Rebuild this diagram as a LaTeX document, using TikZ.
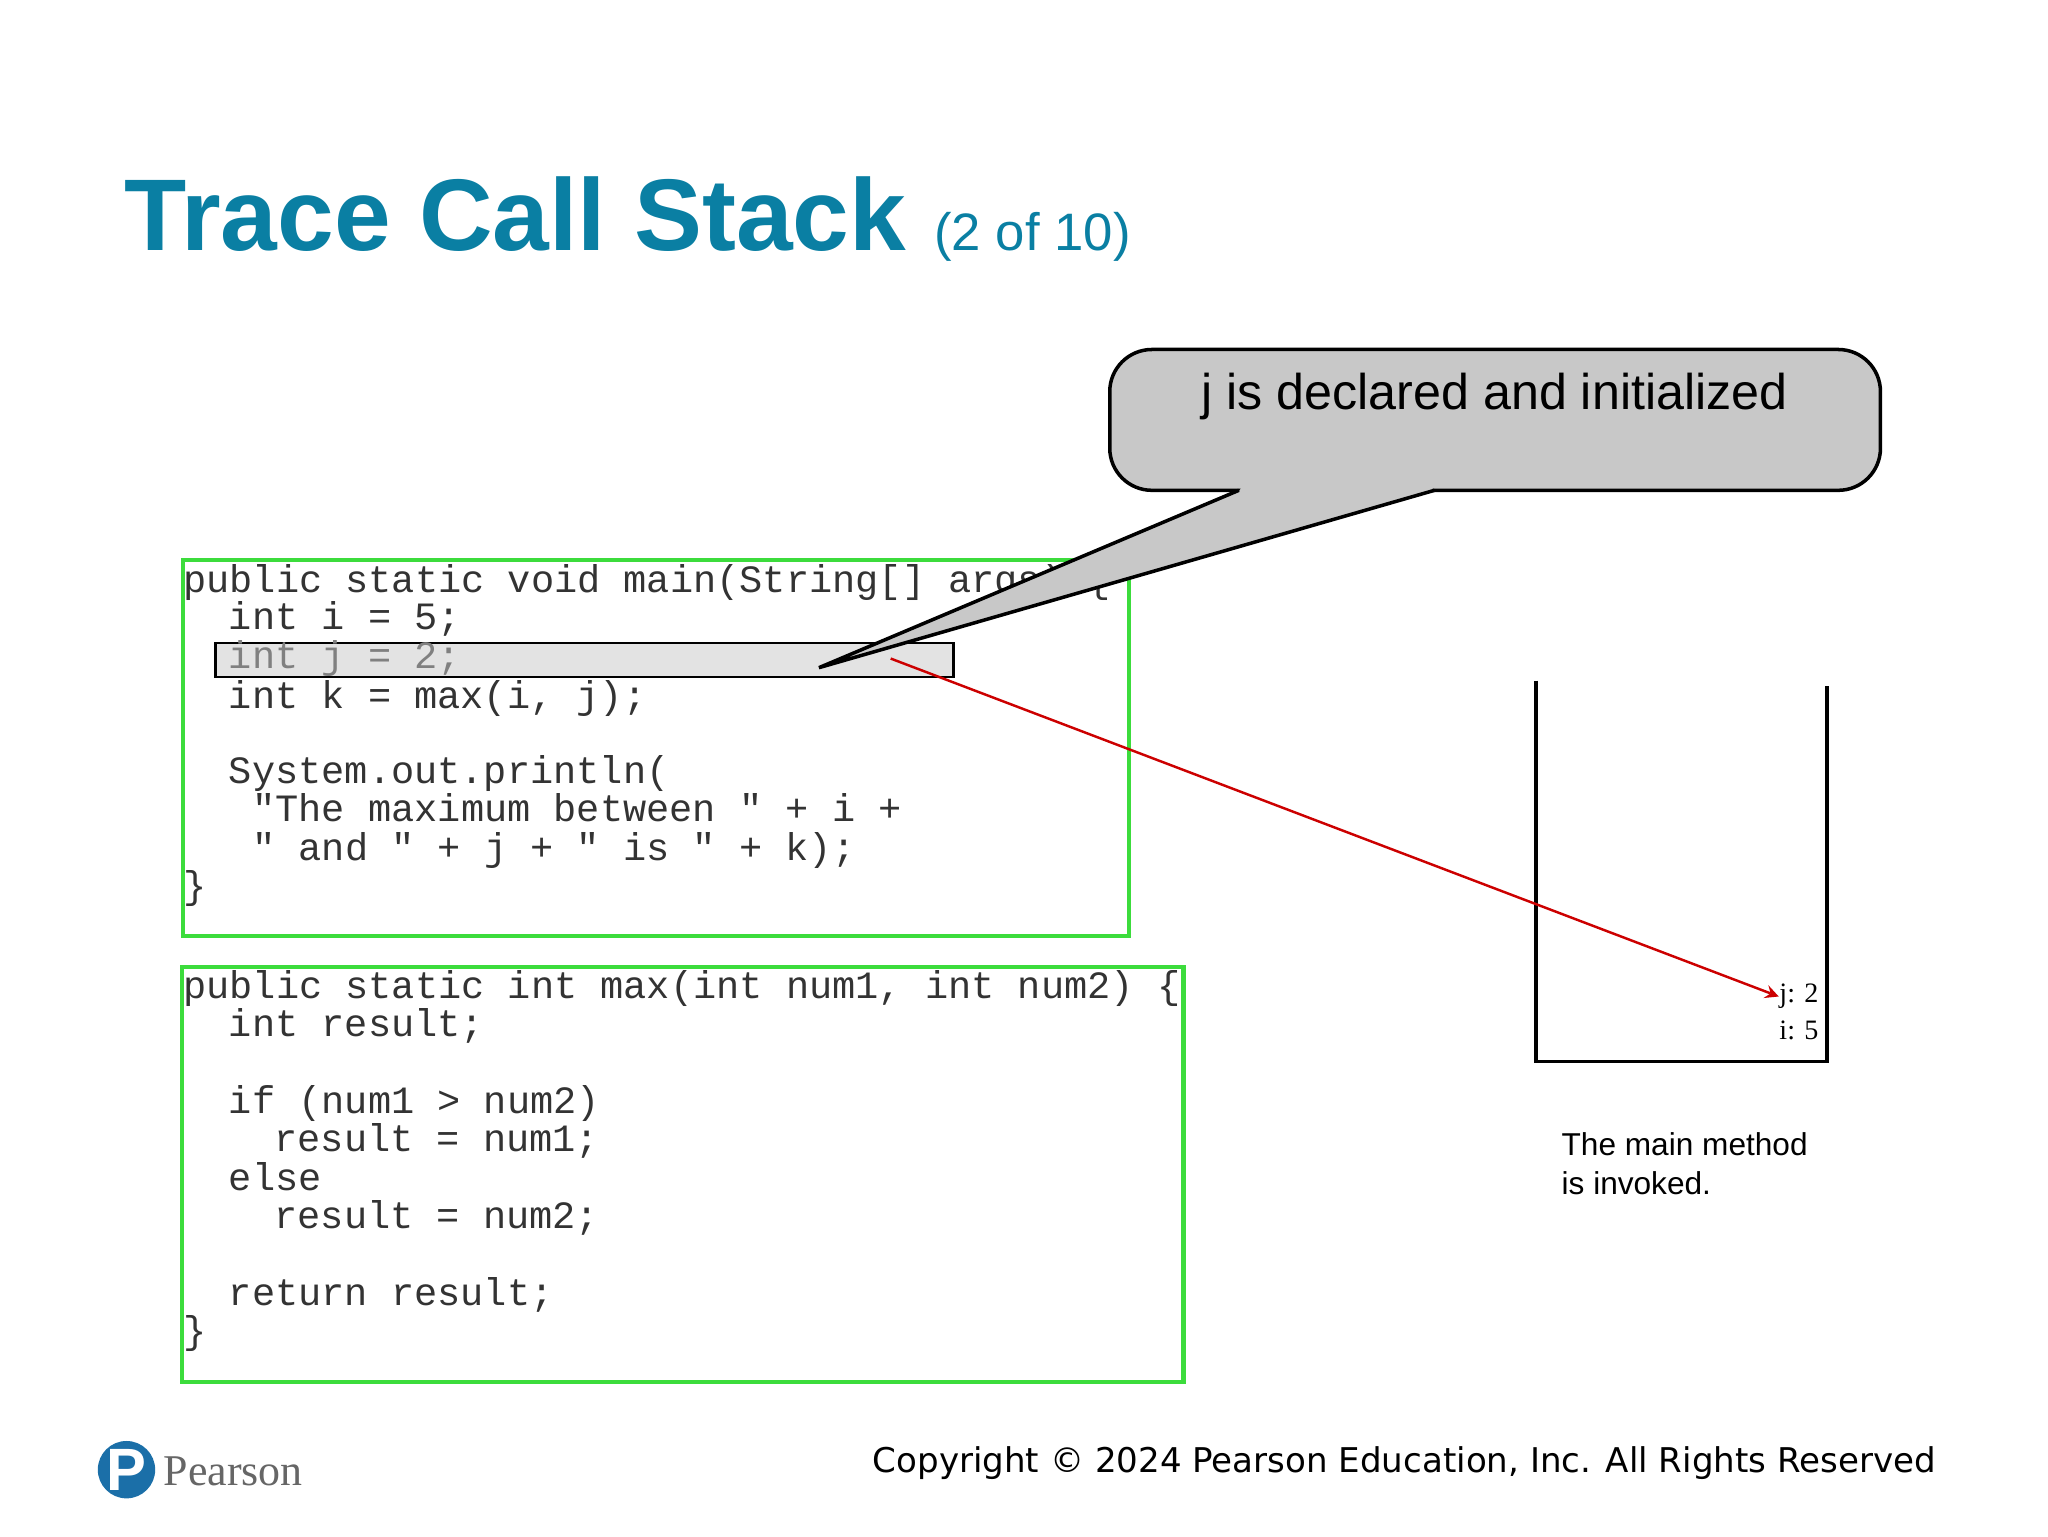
\documentclass[tikz,border=0pt]{standalone}
\usepackage{fontspec}
\setmainfont{Liberation Sans}
\newfontfamily\codefont{Liberation Mono}
\newfontfamily\dvs{DejaVu Sans}
\newfontfamily\serifont{Liberation Serif}
\definecolor{teal}{HTML}{0A7FA3}
\definecolor{grn}{HTML}{3CDC3C}
\definecolor{pblue}{HTML}{1B6FA8}
\definecolor{callg}{HTML}{C8C8C8}
\tikzset{code/.style={anchor=base west,inner sep=0pt,text=black!80,font=\codefont\fontsize{11}{11}\selectfont}}
\begin{document}
\begin{tikzpicture}[x=0.01304cm,y=-0.01304cm]
\useasboundingbox (0,0) rectangle (1570.5,1178);
\node[anchor=base west,inner sep=0pt,text=teal,font=\fontsize{29}{30}\selectfont\bfseries] (title) at (95,192) {Trace Call Stack \fontsize{15}{16}\selectfont\mdseries (2 of 10)};
% code boxes
\node[draw=grn,line width=1.2pt,minimum width=725*0.01304cm,minimum height=288*0.01304cm,anchor=north west,inner sep=0pt] (box1) at (139,428) {};
\node[draw=grn,line width=1.2pt,minimum width=768*0.01304cm,minimum height=318*0.01304cm,anchor=north west,inner sep=0pt] (box2) at (138,740) {};
\node[draw=black,fill=gray!22,line width=0.8pt,minimum width=566*0.01304cm,minimum height=26*0.01304cm,anchor=north west,inner sep=0pt] (hl) at (164,492) {};
\node[code] (c1) at (140,454) {public static void main(String[] args) \{};
\node[code] (c2) at (175,483) {int i = 5;};
\node[code,text=gray] (c3) at (175,513) {int j = 2;};
\node[code] (c4) at (175,543) {int k = max(i, j);};
\node[code] (c5) at (175,601) {System.out.println(};
\node[code] (c6) at (193,630) {"The maximum between " + i +};
\node[code] (c7) at (193,660) {" and " + j + " is " + k);};
\node[code] (c8) at (140,689) {\}};
\node[code] (d1) at (140,766) {public static int max(int num1, int num2) \{};
\node[code] (d2) at (175,795) {int result;};
\node[code] (d3) at (175,854) {if (num1 > num2)};
\node[code] (d4) at (210,883) {result = num1;};
\node[code] (d5) at (175,913) {else};
\node[code] (d6) at (210,942) {result = num2;};
\node[code] (d7) at (175,1001) {return result;};
\node[code] (d8) at (140,1030) {\}};
% callout
\draw[fill=callg,line width=1pt,rounded corners=12] (851,268) rectangle (1442,376);
\coordinate (b1) at (950,376); \coordinate (b2) at (1100,376); \coordinate (tip) at (628,512);
\fill[callg] (953,372) -- (1097,372) -- (1100,377) -- (tip) -- (950,377) -- cycle;
\draw[line width=1pt,line join=miter] (b1) -- (tip) -- (b2);
\node[font=\fontsize{14.3}{15}\selectfont] (callt) at (1146,304) {j is declared and initialized};
% stack
\coordinate (s1) at (1178,522); \coordinate (s2) at (1178,814);
\coordinate (s3) at (1401,814); \coordinate (s4) at (1401,526);
\draw[line width=1pt] (s1) -- (s2) -- (s3) -- (s4);
\node[anchor=base west,inner sep=0pt,font=\serifont\fontsize{8}{8}\selectfont] (vj) at (1364,769) {j: 2};
\node[anchor=base west,inner sep=0pt,font=\serifont\fontsize{8}{8}\selectfont] (vi) at (1364,797) {i: 5};
\coordinate (af) at (683,505);
\draw[red!80!black,line width=0.7pt,-stealth] (af) -- (vj.west);
\node[anchor=north west,align=left,inner sep=0pt,font=\fontsize{9}{11}\selectfont] (cap) at (1197,868) {The main method\\is invoked.};
% footer
\node[anchor=base east,inner sep=0pt,font=\dvs\fontsize{9.7}{10}\selectfont] (copy) at (1485,1129) {Copyright © 2024 Pearson Education, Inc. All Rights Reserved};
\node[circle,fill=pblue,minimum size=44*0.01304cm,inner sep=0pt,text=white,font=\bfseries\fontsize{17}{17}\selectfont] (logo) at (97,1127) {P};
\node[anchor=west,inner sep=0pt,text=gray!80!black,font=\serifont\fontsize{12.5}{13}\selectfont] (pear) at (125,1128) {Pearson};
\end{tikzpicture}
\end{document}
